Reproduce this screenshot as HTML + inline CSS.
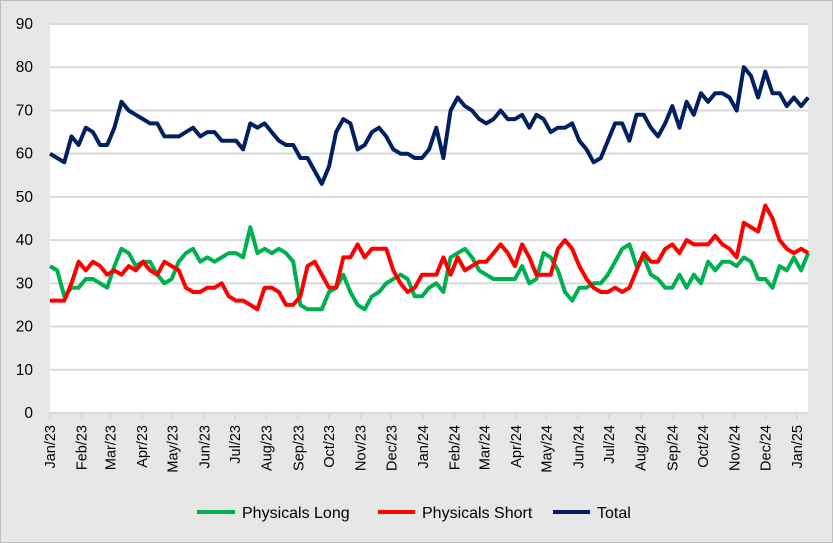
<!DOCTYPE html>
<html><head><meta charset="utf-8"><style>
body{margin:0;background:#e7e7e7;}
svg{display:block;font-family:"Liberation Sans",sans-serif;}
</style></head><body>
<svg width="833" height="543" xmlns="http://www.w3.org/2000/svg">
<rect x="0.5" y="0.5" width="832" height="542" fill="#e7e7e7" stroke="#bfbfbf"/>
<rect x="50" y="24" width="758" height="389" fill="#fff"/>
<g id="grid" stroke="#d9d9d9" stroke-width="2"></g>
<g id="ylab" font-size="15.5" fill="#000" text-anchor="end"></g>
<g id="xlab" font-size="14.5" fill="#000"></g>
<g id="series" fill="none" stroke-width="4" stroke-linejoin="round"></g>
<g font-size="16" fill="#000">
<line x1="197" y1="512" x2="235" y2="512" stroke="#00b050" stroke-width="4"/>
<text x="242" y="518">Physicals Long</text>
<line x1="378" y1="512" x2="415" y2="512" stroke="#ff0000" stroke-width="4"/>
<text x="422" y="518">Physicals Short</text>
<line x1="553" y1="512" x2="590" y2="512" stroke="#002060" stroke-width="4"/>
<text x="597" y="518">Total</text>
</g>
</svg>
<script>
const NS="http://www.w3.org/2000/svg";
function el(p,t,a,txt){const e=document.createElementNS(NS,t);for(const k in a)e.setAttribute(k,a[k]);if(txt!==undefined)e.textContent=txt;document.getElementById(p).appendChild(e);}
const Y=v=>413-v*4.322;
for(let v=0;v<=90;v+=10){el("grid","line",{x1:50,x2:808,y1:Y(v),y2:Y(v)});el("ylab","text",{x:33,y:Y(v)+5},String(v));}
const months=["Jan","Feb","Mar","Apr","May","Jun","Jul","Aug","Sep","Oct","Nov","Dec"];
const dim=[31,28,31,30,31,30,31,31,30,31,30,31];
let d=0;
for(let i=0;i<25;i++){const m=i%12,yr=23+Math.floor(i/12);const x=50+d*1.0219;
el("grid","line",{x1:x,x2:x,y1:413,y2:419});
el("xlab","text",{x:0,y:0,transform:`translate(${x+5},425) rotate(-90)`,"text-anchor":"end"},months[m]+"/"+yr);
let dd=dim[m];if(m==1&&yr==24)dd=29;d+=dd;}
const total=[60,59,58,64,62,66,65,62,62,66,72,70,69,68,67,67,64,64,64,65,66,64,65,65,63,63,63,61,67,66,67,65,63,62,62,59,59,56,53,57,65,68,67,61,62,65,66,64,61,60,60,59,59,61,66,59,70,73,71,70,68,67,68,70,68,68,69,66,69,68,65,66,66,67,63,61,58,59,63,67,67,63,69,69,66,64,67,71,66,72,69,74,72,74,74,73,70,80,78,73,79,74,74,71,73,71,73];
const lng=[34,33,27,29,29,31,31,30,29,34,38,37,34,35,35,32,30,31,35,37,38,35,36,35,36,37,37,36,43,37,38,37,38,37,35,25,24,24,24,28,29,32,28,25,24,27,28,30,31,32,31,27,27,29,30,28,36,37,38,36,33,32,31,31,31,31,34,30,31,37,36,33,28,26,29,29,30,30,32,35,38,39,34,36,32,31,29,29,32,29,32,30,35,33,35,35,34,36,35,31,31,29,34,33,36,33,37];
const sht=[26,26,26,30,35,33,35,34,32,33,32,34,33,35,33,32,35,34,33,29,28,28,29,29,30,27,26,26,25,24,29,29,28,25,25,27,34,35,32,29,29,36,36,39,36,38,38,38,33,30,28,29,32,32,32,36,32,36,33,34,35,35,37,39,37,34,39,36,32,32,32,38,40,38,34,31,29,28,28,29,28,29,33,37,35,35,38,39,37,40,39,39,39,41,39,38,36,44,43,42,48,45,40,38,37,38,37];
function pts(a){return a.map((v,i)=>(50+i*7.153).toFixed(1)+","+Y(v).toFixed(1)).join(" ");}
el("series","polyline",{points:pts(lng),stroke:"#00b050"});
el("series","polyline",{points:pts(sht),stroke:"#ff0000"});
el("series","polyline",{points:pts(total),stroke:"#002060"});
</script>
</body></html>
